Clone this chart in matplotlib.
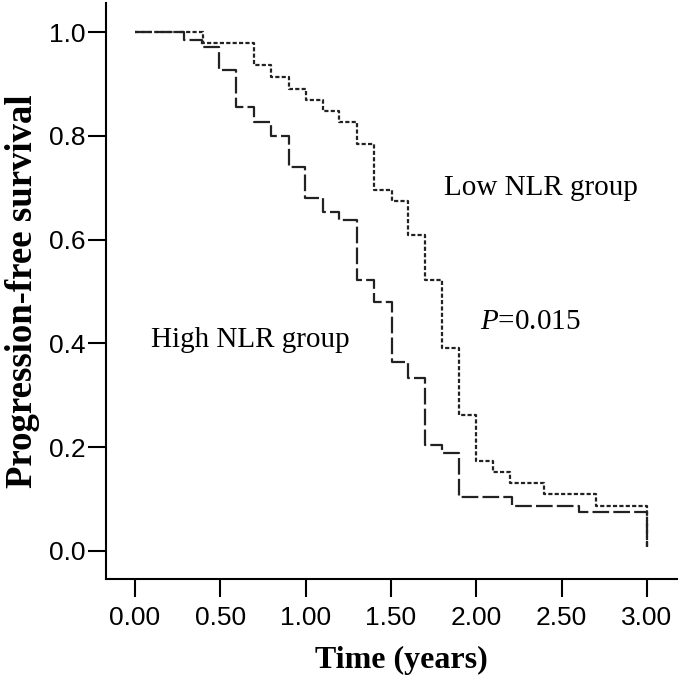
import matplotlib
matplotlib.use("Agg")
import matplotlib.pyplot as plt

plt.rcParams['lines.scale_dashes'] = False
plt.rcParams['mathtext.fontset'] = 'custom'
plt.rcParams['mathtext.rm'] = 'Liberation Serif'
plt.rcParams['mathtext.it'] = 'Liberation Serif:italic'

# Kaplan-Meier step data (time in years, survival probability)
low_t = [0, 0.397, 0.698, 0.797, 0.903, 1.002, 1.10, 1.198, 1.30, 1.40, 1.505, 1.602,
         1.70, 1.80, 1.90, 2.00, 2.10, 2.20, 2.40, 2.70, 3.00]
low_s = [1.0, 0.979, 0.936, 0.913, 0.891, 0.869, 0.848, 0.826, 0.784, 0.696, 0.675, 0.609,
         0.522, 0.392, 0.262, 0.174, 0.151, 0.131, 0.109, 0.087, 0.008]

high_t = [0, 0.285, 0.39, 0.494, 0.59, 0.698, 0.797, 0.903, 0.996, 1.10, 1.198, 1.30,
          1.40, 1.505, 1.60, 1.70, 1.80, 1.90, 2.21, 2.605, 3.00]
high_s = [1.0, 0.986, 0.971, 0.927, 0.855, 0.826, 0.799, 0.741, 0.681, 0.653, 0.638, 0.522,
          0.479, 0.365, 0.334, 0.204, 0.188, 0.103, 0.087, 0.074, 0.008]

x_ticks = [0.0, 0.5, 1.0, 1.5, 2.0, 2.5, 3.0]
x_ticklabels = ["0.00", "0.50", "1.00", "1.50", "2.00", "2.50", "3.00"]
y_ticks = [0.0, 0.2, 0.4, 0.6, 0.8, 1.0]
y_ticklabels = ["0.0", "0.2", "0.4", "0.6", "0.8", "1.0"]

fig = plt.figure(figsize=(6.8, 6.78), dpi=100)
ax = fig.add_axes([0.1559, 0.1456, 0.9956 - 0.1559, 0.9956 - 0.1456])

ax.step(high_t, high_s, where='post', color='#222222', lw=1.6, dashes=(12, 3))
ax.step(low_t, low_s, where='post', color='#222222', lw=1.6, dashes=(3, 1.6))

ax.set_xlim(-0.17, 3.177)
ax.set_ylim(-0.055, 1.0565)

for s in ['top', 'right']:
    ax.spines[s].set_visible(False)
for s in ['left', 'bottom']:
    ax.spines[s].set_linewidth(1.5)

ax.set_xticks(x_ticks)
ax.set_xticklabels(x_ticklabels, fontfamily='Liberation Sans', fontsize=19)
ax.set_yticks(y_ticks)
ax.set_yticklabels(y_ticklabels, fontfamily='Liberation Sans', fontsize=19)
ax.tick_params(axis='both', length=13, width=1.5, direction='out')
ax.tick_params(axis='y', pad=2)
ax.tick_params(axis='x', pad=6)

ax.set_xlabel("Time (years)", fontfamily='Liberation Serif', fontweight='bold',
              fontsize=23)
ax.xaxis.set_label_coords(0.517, -0.115)
ax.set_ylabel("Progression-free survival", fontfamily='Liberation Serif', fontweight='bold',
              fontsize=26.5, labelpad=6)

serif = 'Liberation Serif'
ax.text(2.38, 0.70, "Low NLR group", fontfamily=serif, fontsize=21, ha='center', va='center')
ax.text(0.674, 0.406, "High NLR group", fontfamily=serif, fontsize=21, ha='center', va='center')
ax.text(2.32, 0.441, r"$\mathit{P}$=0.015", fontfamily=serif, fontsize=21,
        ha='center', va='center')

fig.savefig("out.png", dpi=100)
